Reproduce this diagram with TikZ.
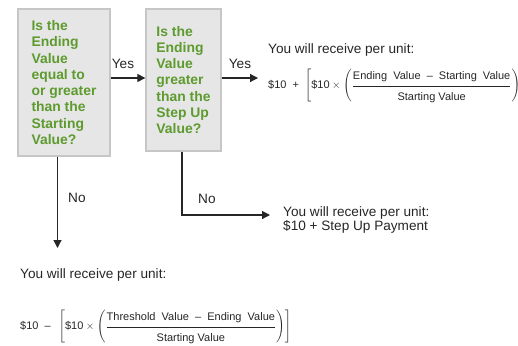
\documentclass[tikz,border=0pt]{standalone}
\usepackage{amsmath}
\usepackage{fontspec}
\setmainfont{Liberation Sans}
\usetikzlibrary{arrows.meta}
\definecolor{boxfill}{HTML}{E6E6E6}
\definecolor{boxline}{HTML}{C6C6C6}
\definecolor{qgreen}{HTML}{5E9B2F}
\definecolor{ink}{HTML}{262626}
\newcommand{\numstrut}{\rule[-5pt]{0pt}{5pt}}
\newcommand{\denstrut}{\rule{0pt}{13pt}}

\begin{document}
\begin{tikzpicture}[>={Triangle[length=8pt,width=8pt]}, x=1pt, y=-1pt,
  question/.style={shape=rectangle,draw=boxline,fill=boxfill,line width=1.3pt,text=qgreen,
    font=\fontsize{13.9}{16.3}\selectfont\bfseries,align=left,inner sep=0pt},
  note/.style={font=\fontsize{13.6}{14.5}\selectfont,text=ink,inner sep=0pt,align=left},
  formula/.style={font=\fontsize{11}{13}\selectfont,text=ink,inner sep=0pt},
  flow/.style={draw=ink,line width=1.2pt,->}]
\useasboundingbox (0,0) rectangle (518,345);
% the two questions
\node (ask1) at (64,82.5) [question,minimum width=92pt,minimum height=147pt]
  {Is the\\Ending\\Value\\equal to\\or greater\\than the\\Starting\\Value?};
\node (ask2) at (183.5,80) [question,minimum width=75pt,minimum height=142pt]
  {Is the\\Ending\\Value\\greater\\than the\\Step Up\\Value?};
% payouts
\node (gain)  at (268,50)  [note,anchor=west] {You will receive per unit:};
\node (gainf) at (268,86)  [formula,anchor=west]
  {\$10\hspace{6pt}+\hspace{6pt}$\left[\text{\$10}\times\left(\dfrac{\text{Ending\ \ Value\ \ –\ \ Starting\ \ Value}\numstrut}{\denstrut\text{Starting Value}}\right)\right]$};
\node (step)  at (283,220) [note,anchor=west] {You will receive per unit:\\\$10 + Step Up Payment};
\node (loss)  at (20,275)  [note,anchor=west] {You will receive per unit:};
\node (lossf) at (20,327)  [formula,anchor=west]
  {\$10\hspace{6pt}–\hspace{8pt}$\left[\text{\$10}\times\left(\dfrac{\text{Threshold\ \ Value\ \ –\ \ Ending\ \ Value}\numstrut}{\denstrut\text{Starting Value}}\right)\right]$};
% connectors
\coordinate (yes)   at (0,78);
\coordinate (down1) at (57.5,248);
\coordinate (bend)  at (182,215);
\draw [flow] (ask1.east |- yes) -- (ask2.west |- yes);
\draw [flow] (ask2.east |- yes) -- ([xshift=-10pt]gainf.west |- yes);
\draw [flow] (ask1.south -| down1) -- (down1);
\draw [flow] (ask2.south -| bend) -- (bend) -- ([xshift=-13pt]step.west |- bend);
\node (yes1) at (123,64)  [note] {Yes};
\node (yes2) at (240,64)  [note] {Yes};
\node (no1)  at (68,198)  [note,anchor=west] {No};
\node (no2)  at (198,199) [note,anchor=west] {No};
\end{tikzpicture}
\end{document}
